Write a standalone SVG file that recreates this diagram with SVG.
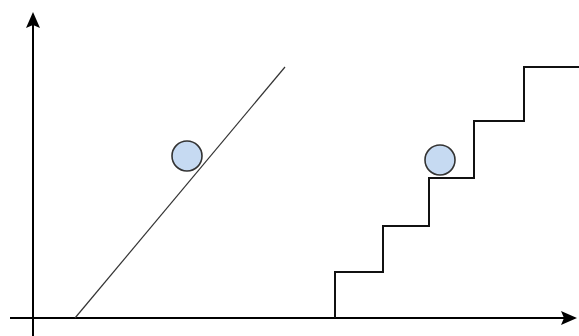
<svg xmlns="http://www.w3.org/2000/svg" width="579" height="336" viewBox="0 0 579 336">
<style>
.axis{stroke:#000;stroke-width:2;fill:none}
.ball{fill:#c6daf2;stroke:#333;stroke-width:1.6}
.ramp{stroke:#333;stroke-width:1.2;fill:none}
.stairs{stroke:#111;stroke-width:2;fill:none}
</style>
<defs>
<marker id="ah" viewBox="0 0 16 14" refX="14" refY="7" markerWidth="16" markerHeight="14" markerUnits="userSpaceOnUse" orient="auto">
<path d="M0,0 L16,7 L0,14 L3,7 Z" fill="#000"/>
</marker>
</defs>
<rect width="579" height="336" fill="#fff"/>
<g id="connectors">
<line class="axis" x1="33" y1="336" x2="33" y2="14" marker-end="url(#ah)"/>
<line class="axis" x1="10" y1="318" x2="575" y2="318" marker-end="url(#ah)"/>
</g>
<g id="ramp"><line class="ramp" x1="75" y1="318" x2="285" y2="67"/></g>
<g id="stairs"><path class="stairs" d="M335,318 V272 H383 V226 H429 V178 H474 V121 H524 V67 H579"/></g>
<g id="ball-ramp"><circle class="ball" cx="187" cy="156" r="15"/></g>
<g id="ball-stairs"><circle class="ball" cx="440" cy="160" r="15"/></g>
</svg>
